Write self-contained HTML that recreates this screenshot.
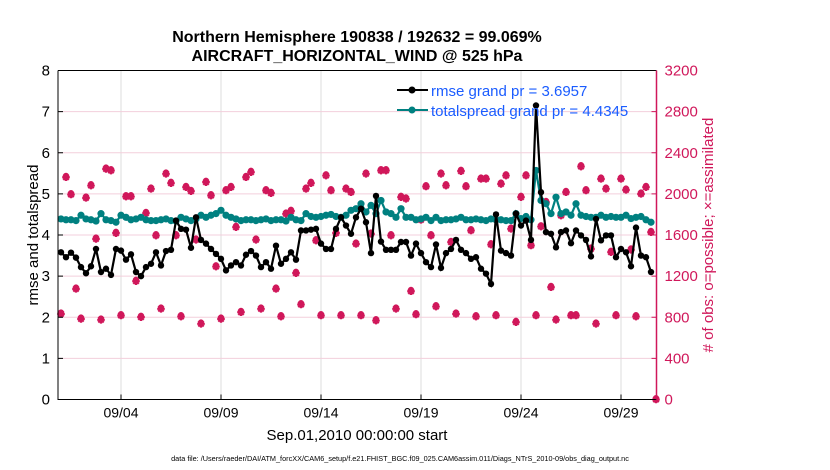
<!DOCTYPE html>
<html><head><meta charset="utf-8"><style>
body{margin:0;background:#fff;}
svg{display:block;font-family:"Liberation Sans",Arial,sans-serif;}
</style></head><body>
<svg id="chart" width="830" height="470" xmlns="http://www.w3.org/2000/svg">
<rect width="830" height="470" fill="#fff"/>
<g id="grid"></g><g id="marks"></g><g id="axes"></g>
<text x="357" y="42" text-anchor="middle" font-size="16" font-weight="bold">Northern Hemisphere 190838 / 192632 = 99.069%</text>
<text x="357" y="61" text-anchor="middle" font-size="16" font-weight="bold">AIRCRAFT_HORIZONTAL_WIND @ 525 hPa</text>
<text transform="translate(38,235) rotate(-90)" text-anchor="middle" font-size="15">rmse and totalspread</text>
<text transform="translate(713,235) rotate(-90)" text-anchor="middle" font-size="15" fill="#d0175a">&#35; of obs: o=possible; &#215;=assimilated</text>
<text x="357" y="440" text-anchor="middle" font-size="15">Sep.01,2010 00:00:00 start</text>
<text x="400" y="461" text-anchor="middle" font-size="7.3">data file: /Users/raeder/DAI/ATM_forcXX/CAM6_setup/f.e21.FHIST_BGC.f09_025.CAM6assim.011/Diags_NTrS_2010-09/obs_diag_output.nc</text>
<g>
<line x1="397" y1="90" x2="428" y2="90" stroke="#000" stroke-width="2"/><circle cx="412" cy="90" r="3.5" fill="#000"/>
<text x="431" y="96" font-size="15" fill="#1a5cff">rmse grand pr = 3.6957</text>
<line x1="397" y1="110" x2="428" y2="110" stroke="#008080" stroke-width="2"/><circle cx="412" cy="110" r="3.5" fill="#008080"/>
<text x="431" y="116" font-size="15" fill="#1a5cff">totalspread grand pr = 4.4345</text>
</g>
</svg>
<script>
const tickDays=[3,8,13,18,23,28];
const tickLabels=["09/04","09/09","09/14","09/19","09/24","09/29"];
const leftTicks=[0,1,2,3,4,5,6,7,8];
const rightTicks=[0,400,800,1200,1600,2000,2400,2800,3200];
const rmse=[3.58,3.46,3.57,3.45,3.22,3.07,3.24,3.66,3.10,3.18,3.03,3.66,3.62,3.40,3.53,3.10,3.00,3.22,3.30,3.58,3.26,3.61,3.64,4.35,4.15,4.13,3.69,4.43,3.88,3.79,3.66,3.54,3.42,3.14,3.26,3.34,3.26,3.52,3.61,3.50,3.22,3.34,3.18,3.74,3.30,3.42,3.58,3.40,4.11,4.11,4.13,4.15,3.79,3.66,3.66,4.15,4.43,4.23,4.03,4.43,4.64,
4.31,3.56,4.95,3.84,3.64,3.64,3.64,3.83,3.83,3.50,3.79,3.56,3.34,3.22,3.77,3.20,3.56,3.66,3.88,3.64,3.56,3.42,3.46,3.18,3.06,2.81,4.50,3.62,3.56,3.50,4.52,4.23,4.35,3.88,7.15,5.04,4.07,4.03,3.70,4.07,4.11,3.80,4.11,3.99,3.88,3.48,4.39,3.87,3.99,3.99,3.46,3.66,3.58,3.24,4.18,3.50,3.46,3.10];
const spread=[4.39,4.37,4.37,4.35,4.48,4.39,4.37,4.34,4.52,4.37,4.35,4.31,4.48,4.43,4.37,4.39,4.43,4.37,4.35,4.35,4.37,4.39,4.35,4.34,4.43,4.39,4.35,4.39,4.48,4.43,4.48,4.52,4.60,4.48,4.43,4.39,4.35,4.37,4.37,4.35,4.37,4.39,4.35,4.37,4.37,4.34,4.43,4.37,4.35,4.52,4.45,4.43,4.45,4.48,4.50,4.45,4.43,4.48,
4.60,4.64,4.76,4.56,4.72,4.52,4.84,4.56,4.52,4.43,4.64,4.43,4.43,4.37,4.39,4.43,4.35,4.43,4.35,4.37,4.37,4.39,4.43,4.37,4.37,4.39,4.37,4.35,4.39,4.37,4.37,4.35,
4.35,4.52,4.40,4.45,4.37,5.57,4.84,4.76,4.52,4.92,4.52,4.56,4.48,4.76,4.48,4.45,4.43,4.43,4.48,4.43,4.45,4.43,4.43,4.48,4.40,4.43,4.45,4.37,4.31];
const obsCount=[833,2162,1994,1076,784,1961,2081,1562,775,2243,2227,1618,817,1974,1974,1151,801,1812,2049,1595,882,2195,2104,1595,807,2065,2026,1553,736,2114,1984,1293,784,2033,2065,1676,849,2162,2211,1553,882,2033,2007,1076,807,1806,1832,1229,924,2049,2104,1546,817,2178,2033,1618,817,2049,2016,1514,817,
2195,1611,768,2227,2227,1595,882,1968,1952,1053,827,1747,2072,1595,904,2195,2081,1530,833,2221,2072,1644,807,2146,2146,1507,817,2097,2178,1660,752,1968,2178,1498,817,1682,1919,1092,775,1789,2016,817,817,2266,2033,1465,736,2146,2049,1433,817,2146,2039,1456,807,2000,2065,1627,0];
const stepDays=0.25;
const L=58,R=656.5,T=70.5,B=399.5;
const xS=d=>L+(d+0.15)*20;
const yL=v=>B-(v/8)*(B-T);
const yR=v=>B-(v/3200)*(B-T);
const NS="http://www.w3.org/2000/svg";
function mk(tag,attrs,parent){const e=document.createElementNS(NS,tag);for(const k in attrs)e.setAttribute(k,attrs[k]);parent.appendChild(e);return e;}
const grid=document.getElementById('grid'),marks=document.getElementById('marks'),axes=document.getElementById('axes');
tickDays.forEach((d,i)=>{
  const g=mk('line',{x1:xS(d),x2:xS(d),y1:T,y2:B,stroke:'#dcdcdc','stroke-width':1},grid);
  
  
  const t=mk('line',{x1:xS(d),x2:xS(d),y1:B,y2:B-5,stroke:'#000'},axes);
  
  
  const tx=mk('text',{x:xS(d),y:B+18,'text-anchor':'middle','font-size':14},axes);tx.textContent=tickLabels[i];
  
  
});
rightTicks.forEach(v=>{
  if(v>0&&v<3200){const g=mk('line',{x1:L,x2:R,y1:yR(v),y2:yR(v),stroke:'#f3cfdc','stroke-width':1},grid);
  
  }
  const t=mk('line',{x1:R,x2:R-5,y1:yR(v),y2:yR(v),stroke:'#d0175a'},axes);
  
  
  const tx=mk('text',{x:R+8,y:yR(v)+5,'font-size':15,fill:'#d0175a'},axes);tx.textContent=v;
  
  
});
leftTicks.forEach(v=>{
  const t=mk('line',{x1:L,x2:L+5,y1:yL(v),y2:yL(v),stroke:'#000'},axes);
  
  
  const tx=mk('text',{x:L-8,y:yL(v)+5,'text-anchor':'end','font-size':15},axes);tx.textContent=v;
  
  
});
const ax=mk('path',{d:`M${L},${T}V${B}H${R}M${L},${T}H${R}`,stroke:'#000',fill:'none','stroke-width':1},axes);


const ra=mk('line',{x1:R,x2:R,y1:T,y2:B,stroke:'#d0175a','stroke-width':1.5},axes);


obsCount.forEach((c,i)=>{
  const x=xS(i*stepDays),y=yR(c);
  const o=mk('circle',{cx:x,cy:y-1.5,r:2.3,fill:'none',stroke:'#d0175a','stroke-width':1.4},marks);
  
  
  const a=3.8,b=2.7;
  const s=mk('path',{d:`M${x-a},${y}H${x+a}M${x},${y-a}V${y+a}M${x-b},${y-b}L${x+b},${y+b}M${x-b},${y+b}L${x+b},${y-b}`,stroke:'#d0175a','stroke-width':2.2,fill:'none'},marks);
  
  
});
function series(arr,color,name,r){
  const pts=arr.map((v,i)=>[xS(i*stepDays),yL(v)]);
  const p=mk('polyline',{points:pts.map(p=>p.join(',')).join(' '),fill:'none',stroke:color,'stroke-width':2.2},marks);
  
  
  pts.forEach(q=>{const c=mk('circle',{cx:q[0],cy:q[1],r:r,fill:color},marks);
    
    });
}
series(spread,'#008080','totalspread',3.6);
series(rmse,'#000','rmse',3.2);
</script>
</body></html>
